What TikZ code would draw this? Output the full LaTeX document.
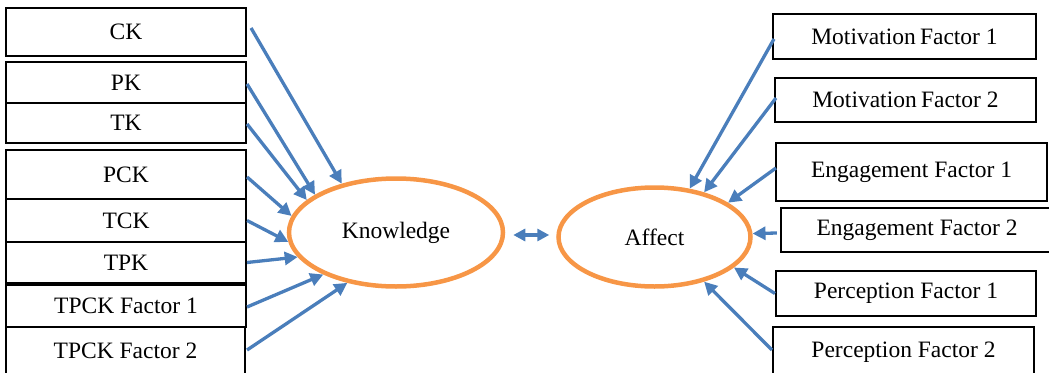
\documentclass[tikz,border=0pt]{standalone}
\usepackage{fontspec}
\setmainfont{Liberation Serif}
\usetikzlibrary{arrows.meta,calc,shapes.geometric}
\definecolor{arrowblue}{HTML}{4A7EBB}
\definecolor{ellorange}{HTML}{F79646}
\begin{document}
\begin{tikzpicture}[x=1pt,y=-1pt,
  font=\fontsize{23.5}{28}\selectfont,
  box/.style={draw=black,line width=2.1pt,rectangle,inner sep=0pt,fill=white},
  latent/.style={draw=ellorange,line width=4.5pt,ellipse,inner sep=0pt},
  path arrow/.style={draw=arrowblue,line width=3.3pt,-{Triangle[length=13pt,width=13pt]}},
  dbl arrow/.style={draw=arrowblue,line width=3.6pt,{Triangle[length=12pt,width=12pt]}-{Triangle[length=12pt,width=12pt]}}]
\useasboundingbox (0,0) rectangle (1049,372);
% left boxes
\node[box,minimum width=240pt,minimum height=48pt] (ck) at (126,32) {CK};
\node[box,minimum width=240pt,minimum height=41pt] (pk) at (126,82.5) {PK};
\node[box,minimum width=240pt,minimum height=40pt] (tk) at (126,123) {TK};
\node[box,minimum width=240pt,minimum height=49pt] (pck) at (126,174.5) {PCK};
\node[box,minimum width=240pt,minimum height=43pt] (tck) at (126,220.5) {TCK};
\node[box,minimum width=240pt,minimum height=41pt] (tpk) at (126,262.5) {TPK};
\node[box,minimum width=240pt,minimum height=42pt] (tpck1) at (126,306) {TPCK Factor 1};
\node[box,minimum width=239pt,minimum height=48pt] (tpck2) at (125.5,351) {TPCK Factor 2};
% right boxes
\node[box,minimum width=263pt,minimum height=45pt] (mf1) at (904.5,36.5) {Motivation\hspace{0.18em}Factor 1};
\node[box,minimum width=261pt,minimum height=44pt] (mf2) at (905.5,100) {Motivation\hspace{0.18em}Factor 2};
\node[box,minimum width=271pt,minimum height=58pt] (ef1) at (911.5,172) {Engagement Factor 1};
\node[box,minimum width=272pt,minimum height=44pt] (ef2) at (917,230) {Engagement Factor 2};
\node[box,minimum width=260pt,minimum height=45pt] (pf1) at (906,293.5) {Perception Factor 1};
\node[box,minimum width=261pt,minimum height=50pt] (pf2) at (903.5,352) {Perception Factor 2};
% latent variables
\node[latent,minimum width=214pt,minimum height=108pt] (K) at (396,232.5) {\raisebox{-3pt}{Knowledge}};
\node[latent,minimum width=192pt,minimum height=99pt] (A) at (654.5,237) {\raisebox{-2pt}{Affect}};
% left arrows
\draw[path arrow] ($(ck.east)+(4,-4)$) -- (K.138);
\draw[path arrow] ($(pk.east)+(0,1.5)$) -- (K.155.7);
\draw[path arrow] ($(tk.east)+(0,1)$) -- (K.160.8);
\draw[path arrow] ($(pck.east)+(0,2.5)$) -- (K.171.7);
\draw[path arrow] (tck.east) -- (K.185);
\draw[path arrow] (tpk.east) -- (K.194.6);
\draw[path arrow] ($(tpck1.east)+(0,1)$) -- (K.210.7);
\draw[path arrow] ($(tpck2.east)+(1,-1)$) -- (K.226.3);
% right arrows
\draw[path arrow] ($(mf1.west)+(2,2.5)$) -- (A.54.8);
\draw[path arrow] ($(mf2.west)+(2,-2)$) -- (A.42.2);
\draw[path arrow] ($(ef1.west)+(1,-4)$) -- (A.25.2);
\draw[path arrow] ($(ef2.west)+(-3,3)$) -- (A.2.3);
\draw[path arrow] (pf1.west) -- (A.339.1);
\draw[path arrow] ($(pf2.west)+(0,-2)$) -- (A.318.2);
% covariance
\draw[dbl arrow] ($(K.east)+(8,2.5)$) -- ($(A.west)+(-7,-2)$);
\end{tikzpicture}
\end{document}
